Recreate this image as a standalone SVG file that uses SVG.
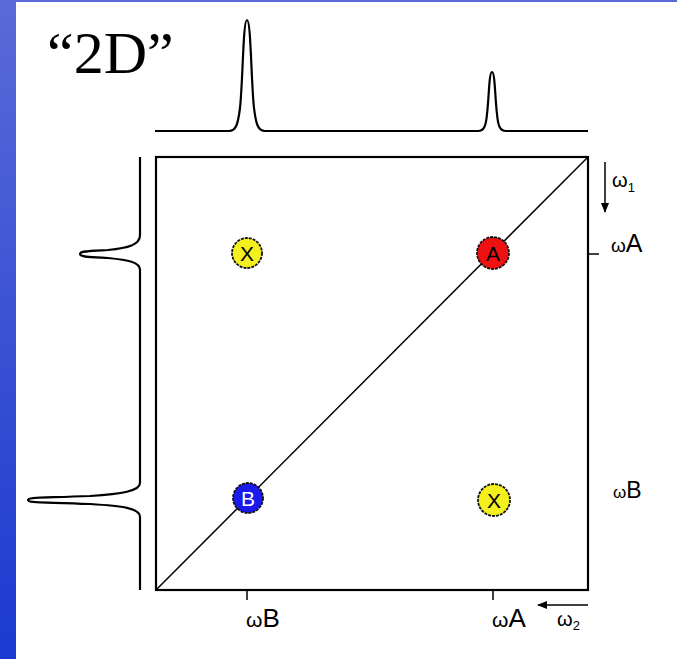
<svg xmlns="http://www.w3.org/2000/svg" width="677" height="659" viewBox="0 0 677 659">
<defs>
<linearGradient id="bar" x1="0" y1="0" x2="0" y2="1">
<stop offset="0" stop-color="#5b6ad8"/>
<stop offset="1" stop-color="#1a3ad0"/>
</linearGradient>
<marker id="ah" markerWidth="10" markerHeight="8" refX="9" refY="4" orient="auto" markerUnits="userSpaceOnUse">
<path d="M0,0 L10,4 L0,8 Z" fill="#000"/>
</marker>
<style>
.ln{fill:none;stroke:#000;stroke-width:2.2}
.thin{fill:none;stroke:#000;stroke-width:1.5}
.lbl{font-family:"Liberation Sans",Arial,sans-serif;fill:#000}
.pk{stroke:#111;stroke-width:1.8;stroke-dasharray:3 1}
.pl{font-family:"Liberation Sans",Arial,sans-serif;font-size:21px;text-anchor:middle}
</style>
</defs>
<rect x="0" y="0" width="677" height="659" fill="#fff"/>
<rect x="0" y="0" width="16" height="659" fill="url(#bar)"/>
<rect x="0" y="0" width="677" height="2" fill="#5b6ad8"/>

<text x="47" y="73" font-family="'Liberation Serif','Times New Roman',serif" font-size="60">“2D”</text>

<g id="spectrum-top">
<path class="ln" d="M155,131 L229,131 C236,131 238,124 240,108 C243,80 243,20 247,20 C251,20 251,80 254,108 C256,124 258,131 265,131 L478,131 C484,131 486,126 487,114 C489,98 489,72 492,72 C495,72 495,98 497,114 C498,126 500,131 506,131 L588,131"/>
</g>
<g id="spectrum-left">
<path class="ln" d="M140,157 L140,235 C140,245 128,248 108,250 C88,251 80,251 80,254 C80,257 88,257 108,258 C128,260 140,262 140,270 L140,483 C140,491 122,494 90,496 C40,498 28,497 28,500 C28,503 40,502 90,504 C122,506 140,508 140,517 L140,590"/>
</g>

<g id="plot-frame">
<rect class="ln" x="156" y="157" width="432" height="433"/>
<line class="thin" x1="156" y1="590" x2="588" y2="157"/>
<line class="thin" x1="247" y1="590" x2="247" y2="600"/>
<line class="thin" x1="493" y1="590" x2="493" y2="600"/>
<line class="thin" x1="588" y1="254" x2="599" y2="254"/>
</g>

<g id="connectors">
<line class="thin" x1="605" y1="162" x2="605" y2="212" marker-end="url(#ah)"/>
<line class="thin" x1="588" y1="605" x2="538" y2="605" marker-end="url(#ah)"/>
</g>

<g id="peak-x-top">
<circle class="pk" cx="247" cy="253" r="15" fill="#f4f020"/>
<text class="pl" x="247" y="261" fill="#000">X</text>
</g>
<g id="peak-a">
<circle class="pk" cx="493" cy="253" r="16" fill="#ee1111"/>
<text class="pl" x="493" y="261" fill="#000">A</text>
</g>
<g id="peak-b">
<circle class="pk" cx="248" cy="498" r="15" fill="#1a1aee"/>
<text class="pl" x="248" y="506" fill="#fff">B</text>
</g>
<g id="peak-x-bottom">
<circle class="pk" cx="494" cy="500" r="16" fill="#f4f020"/>
<text class="pl" x="494" y="508" fill="#000">X</text>
</g>

<g id="labels">
<text class="lbl" x="246" y="627"><tspan font-size="21">ω</tspan><tspan font-size="26">B</tspan></text>
<text class="lbl" x="492" y="627"><tspan font-size="21">ω</tspan><tspan font-size="26">A</tspan></text>
<text class="lbl" x="557" y="626"><tspan font-size="20">ω</tspan><tspan font-size="13" dy="4">2</tspan></text>
<text class="lbl" x="612" y="187"><tspan font-size="20">ω</tspan><tspan font-size="13" dy="5">1</tspan></text>
<text class="lbl" x="611" y="252"><tspan font-size="19">ω</tspan><tspan font-size="25">A</tspan></text>
<text class="lbl" x="613" y="498"><tspan font-size="17">ω</tspan><tspan font-size="23">B</tspan></text>
</g>
</svg>
